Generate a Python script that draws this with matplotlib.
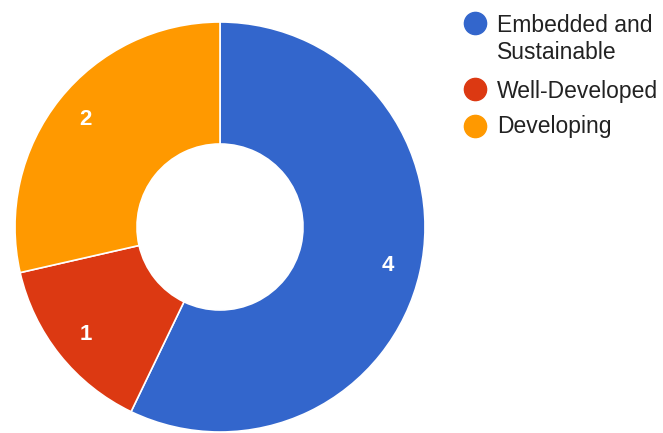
import matplotlib.pyplot as plt

labels = ["Embedded and\nSustainable", "Well-Developed", "Developing"]
values = [4, 1, 2]
colors = ["#3366CC", "#DC3912", "#FF9900"]

plt.rcParams['font.family'] = ['Liberation Sans', 'DejaVu Sans']

W, H = 663, 433
fig = plt.figure(figsize=(W / 100, H / 100), dpi=100)
ax = fig.add_axes([0, 0, 1, 1])

# donut, clockwise from 12 o'clock
wedges, texts, autotexts = ax.pie(
    values, colors=colors, startangle=90, counterclock=False,
    center=(220, H - 227), radius=205,
    wedgeprops=dict(width=205 - 83, edgecolor="white", linewidth=1.2),
    autopct=lambda p: "%d" % round(p * sum(values) / 100),
    pctdistance=0.84,
    textprops=dict(color="white", fontsize=16, fontweight="bold"),
)

ax.set_xlim(0, W)
ax.set_ylim(0, H)
ax.set_aspect("equal")
ax.axis("off")

# legend on the right
marker_y = [22.5, 89, 126]
text_base = [32, 98, 133]
for lab, col, my, ty in zip(labels, colors, marker_y, text_base):
    ax.plot(475, H - my, "o", color=col, markersize=16, clip_on=False)
    for i, line in enumerate(lab.split("\n")):
        ax.text(497, H - (ty + 27 * i), line, fontsize=16.5, color="#222222",
                va="baseline", ha="left")

fig.savefig("out.png", dpi=100, facecolor="white")
